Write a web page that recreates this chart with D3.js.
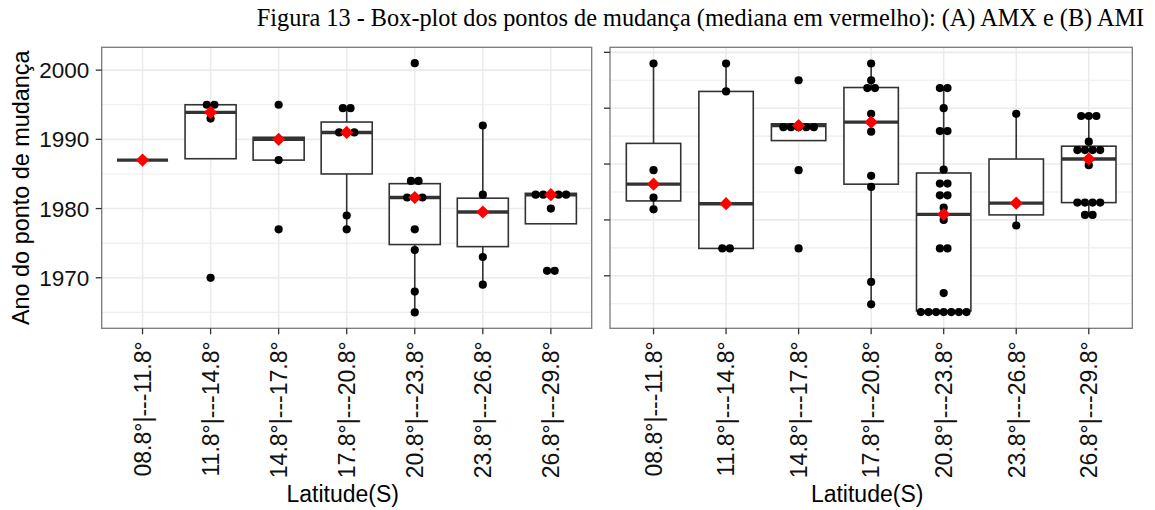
<!DOCTYPE html>
<html>
<head>
<meta charset="utf-8">
<script src="https://cdn.jsdelivr.net/npm/d3@7"></script>
<style>
  html, body { margin: 0; padding: 0; background: #fff; }
  svg { display: block; }
</style>
</head>
<body>
<svg id="chart" width="1155" height="510"></svg>
<script>
// ---------------- DATA ----------------
const categories = ["08.8°|---11.8°", "11.8°|---14.8°", "14.8°|---17.8°", "17.8°|---20.8°",
                    "20.8°|---23.8°", "23.8°|---26.8°", "26.8°|---29.8°"];

// (A) AMX
const amxQ1  = [1987, 1987.2, 1987,   1985,   1974.8, 1974.5, 1977.8];
const amxMed = [1987, 1993.9, 1990,   1991,   1981.6, 1979.5, 1982];
const amxQ3  = [1987, 1995,   1990.3, 1992.5, 1983.6, 1981.5, 1982.2];
const amxLo  = [1987, 1987.2, 1987,   1977,   1965,   1969,   1977.8];
const amxHi  = [1987, 1995,   1990.3, 1994.5, 1984,   1992,   1982.2];
const amxPoints = [
  [1987],
  [1995, 1995, 1993, 1970],
  [1995, 1990, 1987, 1977],
  [1994.5, 1994.5, 1991, 1991, 1991, 1979, 1977],
  [2001, 1984, 1984, 1981.6, 1981.6, 1981.6, 1977, 1974, 1968, 1965],
  [1992, 1982, 1979.5, 1973, 1969],
  [1982, 1982, 1982, 1982, 1982, 1980, 1971, 1971]
];
const amxTicks = [1970, 1980, 1990, 2000];
const amxMinor = [1965, 1975, 1985, 1995];

// (B) AMI
const amiQ1  = [1973.4, 1964.9, 1984.2, 1976.4, 1953.7, 1970.9, 1973.1];
const amiMed = [1976.4, 1972.9, 1986.9, 1987.5, 1971,   1973,   1980.9];
const amiQ3  = [1983.7, 1993,   1987.2, 1993.7, 1978.4, 1980.9, 1983.2];
const amiLo  = [1971.9, 1964.9, 1984.2, 1954.9, 1953.6, 1969,   1970.9];
const amiHi  = [1998,   1998,   1987.2, 1998,   1993.6, 1989,   1988.6];
const amiPoints = [
  [1998, 1978.9, 1976.4, 1974, 1971.9],
  [1998, 1993, 1964.9, 1964.9],
  [1995, 1986.6, 1986.6, 1986.6, 1986.6, 1986.6, 1978.9, 1964.9],
  [1998, 1995, 1993.6, 1993.6, 1989, 1987.5, 1985.8, 1977.9, 1975.9, 1958.9, 1954.9],
  [1993.6, 1993.6, 1990, 1985.9, 1985.9, 1979, 1976.5, 1976.5, 1974.4, 1974.4, 1972.2, 1971, 1970,
   1964.9, 1964.9, 1956.9, 1953.5, 1953.5, 1953.5, 1953.5, 1953.5, 1953.5, 1953.5],
  [1989, 1973, 1969],
  [1988.6, 1988.6, 1988.6, 1984, 1982.5, 1982.5, 1982.5, 1982.5, 1980.9, 1979.8,
   1973.1, 1973.1, 1973.1, 1973.1, 1970.9, 1970.9]
];
const amiTicks = [1960, 1970, 1980, 1990, 2000];
const amiMinor = [1955, 1965, 1975, 1985, 1995];

const titleText = "Figura 13 - Box-plot dos pontos de mudança (mediana em vermelho): (A) AMX e (B) AMI";
const yTitle = "Ano do ponto de mudança";
const xTitle = "Latitude(S)";

// ---------------- DRAW ----------------
const svg = d3.select("#chart");
svg.append("rect").attr("width", 1155).attr("height", 510).attr("fill", "#fff");

const pTop = 47.3, pBottom = 328.3;
const sans = "Liberation Sans, Arial, sans-serif";

svg.append("text")
  .attr("x", 700.5).attr("y", 26)
  .attr("text-anchor", "middle")
  .attr("font-family", "Liberation Serif, 'Times New Roman', serif")
  .attr("font-size", 24.3)
  .attr("fill", "#000")
  .text(titleText);

function panel(cfg) {
  const g = svg.append("g");
  const x = d3.scalePoint().domain(categories).range([cfg.x0, cfg.x1]).padding(0.6);
  const y = d3.scaleLinear().domain(cfg.domain).range([pBottom, pTop]);
  const step = x.step();
  const bw = step * 0.75;

  g.append("rect").attr("x", cfg.x0).attr("y", pTop)
    .attr("width", cfg.x1 - cfg.x0).attr("height", pBottom - pTop).attr("fill", "#fff");

  g.selectAll(".minor").data(cfg.minor).join("line")
    .attr("x1", cfg.x0).attr("x2", cfg.x1)
    .attr("y1", d => y(d)).attr("y2", d => y(d))
    .attr("stroke", "#ededed").attr("stroke-width", 1.1);
  g.selectAll(".major").data(cfg.ticks).join("line")
    .attr("x1", cfg.x0).attr("x2", cfg.x1)
    .attr("y1", d => y(d)).attr("y2", d => y(d))
    .attr("stroke", "#ebebeb").attr("stroke-width", 1.6);
  g.selectAll(".vmajor").data(categories).join("line")
    .attr("x1", d => x(d)).attr("x2", d => x(d))
    .attr("y1", pTop).attr("y2", pBottom)
    .attr("stroke", "#ebebeb").attr("stroke-width", 1.6);

  const boxCol = "#333333";
  categories.forEach((c, i) => {
    const cx = x(c);
    g.append("line").attr("x1", cx).attr("x2", cx)
      .attr("y1", y(cfg.q3[i])).attr("y2", y(cfg.hi[i]))
      .attr("stroke", boxCol).attr("stroke-width", 1.6);
    g.append("line").attr("x1", cx).attr("x2", cx)
      .attr("y1", y(cfg.q1[i])).attr("y2", y(cfg.lo[i]))
      .attr("stroke", boxCol).attr("stroke-width", 1.6);
    g.append("rect")
      .attr("x", cx - bw / 2).attr("width", bw)
      .attr("y", y(cfg.q3[i])).attr("height", Math.max(0, y(cfg.q1[i]) - y(cfg.q3[i])))
      .attr("fill", "#fff").attr("stroke", boxCol).attr("stroke-width", 1.6);
    g.append("line")
      .attr("x1", cx - bw / 2).attr("x2", cx + bw / 2)
      .attr("y1", y(cfg.med[i])).attr("y2", y(cfg.med[i]))
      .attr("stroke", boxCol).attr("stroke-width", 3.4);
  });

  const dotSpace = 7.6;
  categories.forEach((c, i) => {
    const cx = x(c);
    const groups = d3.rollups(cfg.points[i], v => v.length, d => d);
    groups.forEach(([val, n]) => {
      for (let k = 0; k < n; k++) {
        g.append("circle")
          .attr("cx", cx + (k - (n - 1) / 2) * dotSpace)
          .attr("cy", y(val))
          .attr("r", 4.1)
          .attr("fill", "#000");
      }
    });
  });

  const dsz = 6.6;
  g.selectAll(".diamond").data(categories).join("path")
    .attr("d", (c, i) => {
      const cx = x(c), cy = y(cfg.med[i]);
      return `M${cx},${cy - dsz}L${cx + dsz},${cy}L${cx},${cy + dsz}L${cx - dsz},${cy}Z`;
    })
    .attr("fill", "#ff0000");

  g.append("rect").attr("x", cfg.x0).attr("y", pTop)
    .attr("width", cfg.x1 - cfg.x0).attr("height", pBottom - pTop)
    .attr("fill", "none").attr("stroke", "#7a7a7a").attr("stroke-width", 1.3);

  g.selectAll(".ytick").data(cfg.ticks).join("line")
    .attr("x1", cfg.x0 - 6).attr("x2", cfg.x0)
    .attr("y1", d => y(d)).attr("y2", d => y(d))
    .attr("stroke", "#333").attr("stroke-width", 1.3);
  if (cfg.showY) {
    g.selectAll(".ylab").data(cfg.ticks).join("text")
      .attr("x", cfg.x0 - 12.5).attr("y", d => y(d))
      .attr("dy", "0.36em")
      .attr("text-anchor", "end")
      .attr("font-family", sans).attr("font-size", 22.5)
      .attr("fill", "#111")
      .text(d => d);
  }

  g.selectAll(".xtick").data(categories).join("line")
    .attr("x1", d => x(d)).attr("x2", d => x(d))
    .attr("y1", pBottom).attr("y2", pBottom + 6)
    .attr("stroke", "#333").attr("stroke-width", 1.3);
  g.selectAll(".xlab").data(categories).join("text")
    .attr("transform", d => `translate(${x(d)},${pBottom + 13}) rotate(-90)`)
    .attr("dy", "0.36em")
    .attr("text-anchor", "end")
    .attr("font-family", sans).attr("font-size", 23)
    .attr("fill", "#111")
    .text(d => d);

  g.append("text")
    .attr("x", (cfg.x0 + cfg.x1) / 2 - 4).attr("y", 502)
    .attr("text-anchor", "middle")
    .attr("font-family", sans).attr("font-size", 23)
    .attr("fill", "#000")
    .text(xTitle);
}

panel({
  x0: 101.7, x1: 591.7, domain: [1962.7, 2003.3],
  ticks: amxTicks, minor: amxMinor,
  q1: amxQ1, med: amxMed, q3: amxQ3, lo: amxLo, hi: amxHi, points: amxPoints,
  showY: true
});
panel({
  x0: 610, x1: 1132.3, domain: [1950.6, 2000.9],
  ticks: amiTicks, minor: amiMinor,
  q1: amiQ1, med: amiMed, q3: amiQ3, lo: amiLo, hi: amiHi, points: amiPoints,
  showY: false
});

svg.append("text")
  .attr("transform", `translate(21,${(pTop + pBottom) / 2}) rotate(-90)`)
  .attr("dy", "0.36em")
  .attr("text-anchor", "middle")
  .attr("font-family", sans).attr("font-size", 23.4)
  .attr("fill", "#000")
  .text(yTitle);
</script>
</body>
</html>
